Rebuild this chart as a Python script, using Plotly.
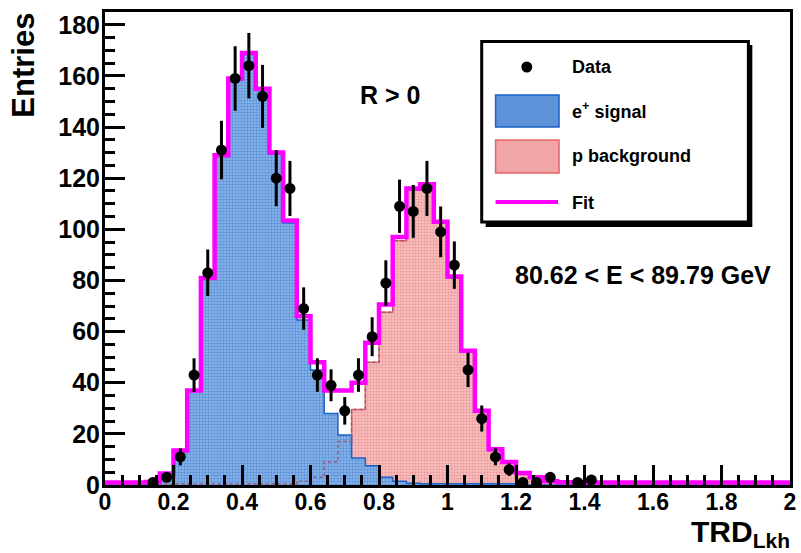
import numpy as np
import plotly.graph_objects as go

# Histogram binning: 50 bins of width 0.04 on [0, 2]
bin_edges = [round(0.04 * i, 2) for i in range(51)]
bin_centers = [round(0.02 + 0.04 * i, 2) for i in range(50)]

# e+ signal template (blue)
signal = [0, 0, 0, 0.3, 4, 13, 37, 81, 129, 158.8,
          168.5, 154.5, 129.5, 102.5, 64.5, 45, 28, 19.6, 10.6, 7.5,
          3, 1.5, 0.7, 0.5, 0.5, 0.5, 0.5, 0.5, 0.5, 0.5,
          0, 0, 0, 0, 0, 0, 0, 0, 0, 0,
          0, 0, 0, 0, 0, 0, 0, 0, 0, 0]

# proton background template (red)
background = [0, 0, 0, 0, 0.3, 0.5, 0.5, 0.5, 0.5, 0.5,
              0.5, 0.5, 0.5, 0.5, 1.5, 3, 9, 17, 29.5, 48,
              67.6, 95.5, 115.3, 117.2, 102.8, 81, 52, 28.6, 13.5, 8.5,
              4.5, 2.5, 1.2, 0.8, 0.8, 0.8, 0.8, 0.8, 0.8, 0.8,
              0.8, 0.8, 0.8, 0.8, 0.8, 0.8, 0.8, 0.8, 0.8, 0.8]

# total fit (magenta)
fit = [1.0, 1.0, 1.0, 1.2, 4.5, 13.5, 37, 81, 129, 159,
       169, 155, 130, 103.5, 66, 48, 37, 37, 40, 55.6,
       70.6, 97, 116, 117.6, 103, 81.5, 52.5, 29, 14, 9,
       4.7, 3, 1.5, 1.1, 1.0, 1.0, 1.0, 1.0, 1.0, 1.0,
       1.0, 1.0, 1.0, 1.0, 1.0, 1.0, 1.0, 1.0, 1.0, 1.0]

# measured entries per bin
data = [0, 0, 0, 1, 3, 11, 43, 83, 131, 159,
        164, 152, 120, 116, 69, 43, 39, 29, 43, 58,
        79, 109, 107, 116, 99, 86, 45, 26, 11, 6,
        1, 1, 3, 0, 1, 2, 0, 0, 0, 0,
        0, 0, 0, 0, 0, 0, 0, 0, 0, 0]

x_ticks = [round(0.2 * i, 1) for i in range(11)]
x_ticklabels = ["0", "0.2", "0.4", "0.6", "0.8", "1", "1.2", "1.4", "1.6", "1.8", "2"]
y_ticks = list(range(0, 181, 20))

FONT = "Liberation Sans, Arial, sans-serif"
BLUE_LINE = "#1a62c6"
BLUE_FG = "#2c6cca"
BLUE_BG = "#8fb8ea"
RED_LINE = "#e46464"
RED_FG = "#e27474"
RED_BG = "#f8c6c6"
MAGENTA = "#ff00ff"

# plot frame in pixels
W, H = 801, 553
L, R, T, B = 105, 796, 12, 485


def px(x):
    return (x - L) / (R - L)


def py(y):
    return (B - y) / (B - T)


def step(values):
    return bin_edges, list(values) + [values[-1]]


fig = go.Figure()

# background template
sx, sy = step(background)
fig.add_trace(go.Scatter(
    x=sx, y=sy, mode="lines", line=dict(shape="hv", color=RED_LINE, width=1.5),
    fill="tozeroy", fillcolor=RED_BG,
    fillpattern=dict(shape=".", fgcolor=RED_FG, bgcolor=RED_BG, size=3, solidity=0.5),
    hoverinfo="skip", showlegend=False))

# signal template
sx, sy = step(signal)
fig.add_trace(go.Scatter(
    x=sx, y=sy, mode="lines", line=dict(shape="hv", color=BLUE_LINE, width=1.5),
    fill="tozeroy", fillcolor=BLUE_BG,
    fillpattern=dict(shape=".", fgcolor=BLUE_FG, bgcolor=BLUE_BG, size=3, solidity=0.5),
    hoverinfo="skip", showlegend=False))

# background outline seen through the signal fill
sx, sy = step(background)
fig.add_trace(go.Scatter(
    x=sx, y=sy, mode="lines",
    line=dict(shape="hv", color="#9a5a78", width=1.5, dash="dot"),
    hoverinfo="skip", showlegend=False))

# fit sum
sx, sy = step(fit)
fig.add_trace(go.Scatter(
    x=sx, y=sy, mode="lines", line=dict(shape="hv", color=MAGENTA, width=4.5),
    hoverinfo="skip", showlegend=False))

# data points with Poisson errors (empty bins not drawn)
dx = [c for c, n in zip(bin_centers, data) if n > 0]
dy = [n for n in data if n > 0]
derr = [float(np.sqrt(n)) for n in dy]
fig.add_trace(go.Scatter(
    x=dx, y=dy, mode="markers",
    marker=dict(color="black", size=11, symbol="circle"),
    error_y=dict(type="data", array=derr, visible=True, color="black", thickness=3, width=0),
    showlegend=False))

shapes = []
annotations = []

# legend box with drop shadow
shapes.append(dict(type="rect", xref="paper", yref="paper",
                   x0=px(489), x1=px(758), y0=py(227), y1=py(45),
                   fillcolor="black", line=dict(width=0), layer="above"))
shapes.append(dict(type="rect", xref="paper", yref="paper",
                   x0=px(485), x1=px(754), y0=py(222), y1=py(41.5),
                   fillcolor="white", line=dict(color="black", width=3), layer="above"))
# legend symbols
shapes.append(dict(type="circle", xref="paper", yref="paper",
                   x0=px(525), x1=px(536), y0=py(72.5), y1=py(61.5),
                   fillcolor="black", line=dict(width=0), layer="above"))
shapes.append(dict(type="rect", xref="paper", yref="paper",
                   x0=px(499), x1=px(563), y0=py(127), y1=py(95),
                   fillcolor="#5e93da", line=dict(color=BLUE_LINE, width=1.5), layer="above"))
shapes.append(dict(type="rect", xref="paper", yref="paper",
                   x0=px(499), x1=px(563), y0=py(173), y1=py(140),
                   fillcolor="#f0a6a6", line=dict(color=RED_LINE, width=1.5), layer="above"))
shapes.append(dict(type="line", xref="paper", yref="paper",
                   x0=px(499), x1=px(562), y0=py(202), y1=py(202),
                   line=dict(color=MAGENTA, width=4), layer="above"))

legend_font = dict(family=FONT, size=18, color="black", weight="bold")
for label, yc in [("Data", 67), ("e<sup>+</sup> signal", 110), ("p background", 156), ("Fit", 203)]:
    annotations.append(dict(text=label, xref="paper", yref="paper",
                            x=px(574), y=py(yc), xanchor="left", yanchor="middle",
                            showarrow=False, font=legend_font))

# in-plot labels
annotations.append(dict(text="R > 0", xref="paper", yref="paper",
                        x=px(392), y=py(95), xanchor="center", yanchor="middle",
                        showarrow=False, font=dict(family=FONT, size=25, color="black", weight="bold")))
annotations.append(dict(text="80.62 < E < 89.79 GeV", xref="paper", yref="paper",
                        x=px(648), y=py(275), xanchor="center", yanchor="middle",
                        showarrow=False, font=dict(family=FONT, size=25, color="black", weight="bold")))

# axis titles
annotations.append(dict(text="Entries", xref="paper", yref="paper",
                        x=px(22), y=py(65), xanchor="center", yanchor="middle", textangle=-90,
                        showarrow=False, font=dict(family=FONT, size=31, color="black", weight="bold")))
annotations.append(dict(text="TRD<sub>Lkh</sub>", xref="paper", yref="paper",
                        x=px(798), y=py(513), xanchor="right", yanchor="top",
                        showarrow=False, font=dict(family=FONT, size=30, color="black", weight="bold")))

x_tick_font = dict(family=FONT, size=23, color="black", weight="bold")
y_tick_font = dict(family=FONT, size=25, color="black", weight="bold")

fig.update_layout(
    width=W, height=H, autosize=False,
    margin=dict(l=L, r=W - R, t=T, b=H - B, pad=0),
    paper_bgcolor="white", plot_bgcolor="white",
    shapes=shapes, annotations=annotations,
    showlegend=False,
    xaxis=dict(range=[0, 2], tickmode="array", tickvals=x_ticks, ticktext=x_ticklabels,
               ticks="inside", ticklen=20, tickwidth=3, tickcolor="black",
               minor=dict(dtick=0.05, tick0=0, ticks="inside", ticklen=10, tickwidth=3, tickcolor="black"),
               showline=True, linewidth=3, linecolor="black", mirror=True,
               showgrid=False, zeroline=False, tickfont=x_tick_font, ticklabelstandoff=-6),
    yaxis=dict(range=[0, 185], tickmode="array", tickvals=y_ticks,
               ticks="inside", ticklen=20, tickwidth=3, tickcolor="black",
               minor=dict(dtick=5, tick0=0, ticks="inside", ticklen=10, tickwidth=3, tickcolor="black"),
               showline=True, linewidth=3, linecolor="black", mirror=True,
               showgrid=False, zeroline=False, tickfont=y_tick_font, ticklabelstandoff=-3),
)

fig.write_html("out.html")
